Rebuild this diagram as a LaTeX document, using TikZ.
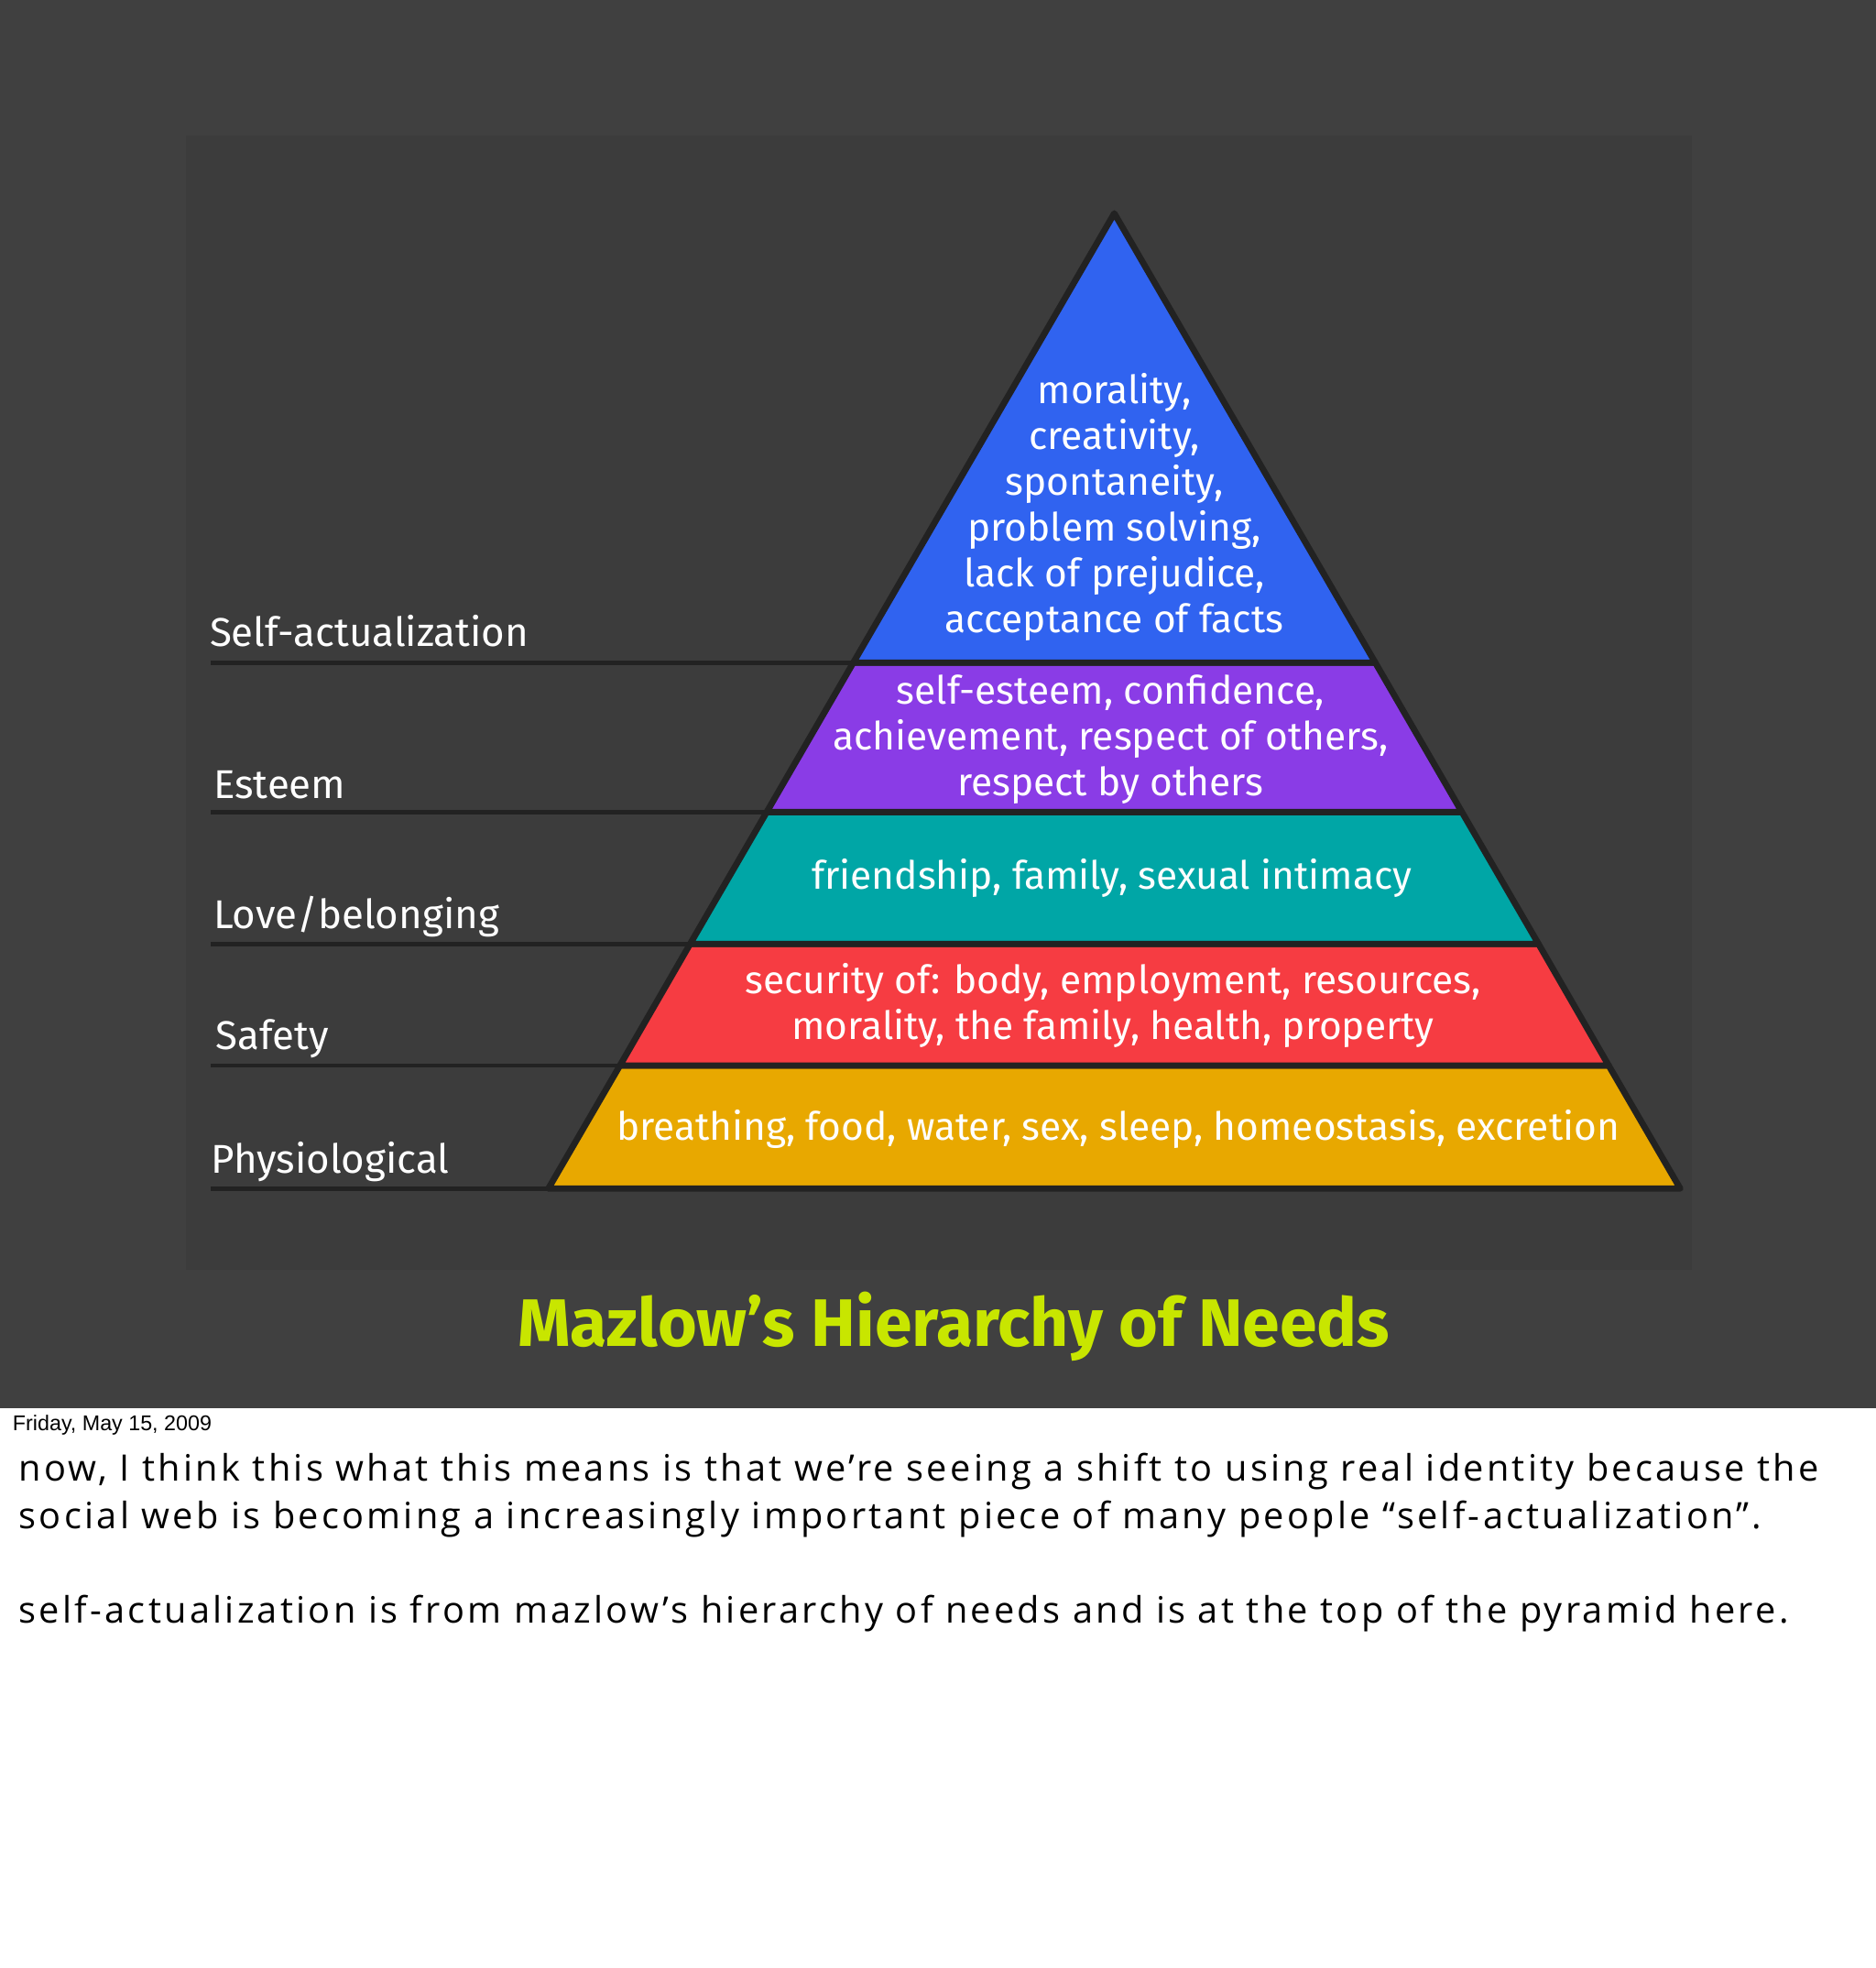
\documentclass[tikz,border=0pt]{standalone}
\usepackage{fontspec}
\setmainfont{Fira Sans}
\newfontfamily\notefont[LetterSpace=8.2]{Open Sans}
\newfontfamily\datefont{Liberation Sans}
\definecolor{bgdark}{HTML}{404040}
\definecolor{panel}{HTML}{3C3C3C}
\definecolor{cblue}{HTML}{3063F0}
\definecolor{cpurple}{HTML}{8A3CE6}
\definecolor{cteal}{HTML}{00A6A6}
\definecolor{cred}{HTML}{F63C42}
\definecolor{cyell}{HTML}{E8A800}
\definecolor{ctitle}{HTML}{C8E600}
\definecolor{edge}{HTML}{222222}
\begin{document}
\begin{tikzpicture}[x=1pt,y=-1pt,
  band/.style={draw=edge,line width=5pt,line join=round},
  lab/.style={anchor=base west,text=white,font=\fontsize{32}{32}\selectfont,inner sep=0},
  inner/.style={text=white,align=center,font=\fontsize{31}{36.6}\selectfont,inner sep=0},
  note/.style={anchor=base west,inner sep=0,font=\notefont\fontsize{29}{29}\selectfont},
  lline/.style={draw=edge,line width=3.5pt}]
\useasboundingbox (0,0) rectangle (1495,1568);
\fill[white] (0,0) rectangle (1495,1568);
\fill[bgdark] (0,0) rectangle (1495,1122);
\fill[panel] (148,108) rectangle (1348,1012);
% bands
\path[band,fill=cyell] (494,849) -- (1282,849) -- (1339,947) -- (437,947) -- cycle;
\path[band,fill=cred] (550,752) -- (1226,752) -- (1282,849) -- (494,849) -- cycle;
\path[band,fill=cteal] (611,647) -- (1165,647) -- (1226,752) -- (550,752) -- cycle;
\path[band,fill=cpurple] (680,528) -- (1096,528) -- (1165,647) -- (611,647) -- cycle;
\path[band,fill=cblue] (888,170) -- (1096,528) -- (680,528) -- cycle;
% label lines
\coordinate (l1) at (168,528); \coordinate (r1) at (680,528);
\coordinate (l2) at (168,647); \coordinate (r2) at (611,647);
\coordinate (l3) at (168,752); \coordinate (r3) at (550,752);
\coordinate (l4) at (168,849); \coordinate (r4) at (494,849);
\coordinate (l5) at (168,947); \coordinate (r5) at (437,947);
\foreach \i in {1,...,5} \draw[lline] (l\i) -- (r\i);
\node[lab] (s1) at (167,515) {Self-actualization};
\node[lab] (s2) at (170,636) {Esteem};
\node[lab] (s3) at (170,740) {Love/belonging};
\node[lab] (s4) at (172,836) {Safety};
\node[lab] (s5) at (168,935) {Physiological};
% inner text
\node[inner] (t1) at (888,404) {morality,\\creativity,\\spontaneity,\\problem solving,\\lack of prejudice,\\acceptance of facts};
\node[inner] (t2) at (885,589) {self-esteem, confidence,\\achievement, respect of others,\\respect by others};
\node[inner] (t3) at (886,700) {friendship, family, sexual intimacy};
\node[inner] (t4) at (887,801) {security of: body, employment, resources,\\morality, the family, health, property};
\node[inner] (t5) at (891,900) {breathing, food, water, sex, sleep, homeostasis, excretion};
\node[text=ctitle,font=\fontsize{53.5}{53.5}\selectfont\bfseries,inner sep=0] (title) at (760,1057) {Mazlow’s Hierarchy of Needs};
\node[anchor=base west,inner sep=0,font=\datefont\fontsize{17}{17}\selectfont] (date) at (10,1140) {Friday, May 15, 2009};
\node[note] (n1) at (15,1180) {now, I think this what this means is that we’re seeing a shift to using real identity because the};
\node[note] (n2) at (15,1218) {social web is becoming a increasingly important piece of many people “self-actualization”.};
\node[note] (n3) at (15,1293) {self-actualization is from mazlow’s hierarchy of needs and is at the top of the pyramid here.};
\end{tikzpicture}
\end{document}
